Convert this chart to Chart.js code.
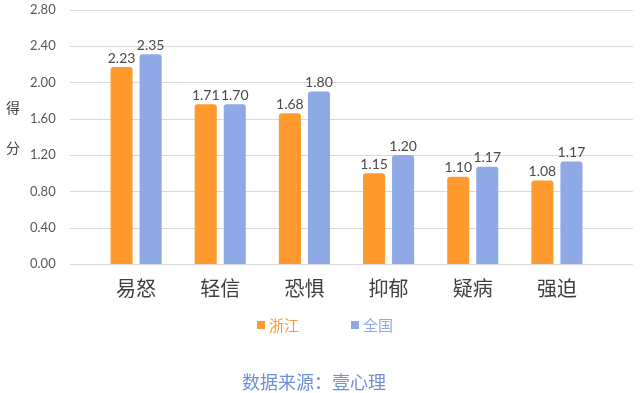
<!DOCTYPE html>
<html><head><meta charset="utf-8">
<script src="https://cdn.jsdelivr.net/npm/chart.js@4/dist/chart.umd.min.js"></script>
<style>html,body{margin:0;padding:0;background:#fff}#wrap{width:640px;height:393px}</style>
</head><body><div id="wrap"><canvas id="c"></canvas></div>
<script>
const categories = ['易怒','轻信','恐惧','抑郁','疑病','强迫'];
const seriesNames = ['浙江','全国'];
// bar heights as drawn in the picture
const zhejiang = [2.17, 1.76, 1.66, 1.00, 0.96, 0.92];
const national = [2.31, 1.76, 1.90, 1.20, 1.07, 1.13];
// value labels as printed in the picture
const zhejiangLabels = ['2.23','1.71','1.68','1.15','1.10','1.08'];
const nationalLabels = ['2.35','1.70','1.80','1.20','1.17','1.17'];
const yTicks = [0,0.4,0.8,1.2,1.6,2.0,2.4,2.8];
const yTitle = ['得','分'];
const sourceText = '数据来源：壹心理';

const ORANGE = '#FF9A2F', BLUE = '#8EA9E6';
const CJK = '"Noto Sans CJK SC", "Noto Sans", sans-serif';
const NUM = 'Lato, "Open Sans", sans-serif';

const decorPlugin = {
  id: 'decor',
  beforeDatasetsDraw(chart) {
    const {ctx} = chart, y = chart.scales.y;
    ctx.save();
    ctx.strokeStyle = '#D9D9D9'; ctx.lineWidth = 1;
    yTicks.forEach(v => {
      const py = Math.round(y.getPixelForValue(v)) + 0.5;
      ctx.beginPath(); ctx.moveTo(70, py); ctx.lineTo(633, py); ctx.stroke();
    });
    ctx.restore();
  },
  afterDraw(chart) {
    const {ctx} = chart;
    ctx.save();
    ctx.fillStyle = '#404040';
    ctx.font = '14px ' + CJK;
    ctx.textAlign = 'center'; ctx.textBaseline = 'middle';
    ctx.fillText(yTitle[0], 13, 108);
    ctx.fillText(yTitle[1], 13, 148);
    // value labels
    ctx.font = '14px ' + NUM;
    ctx.fillStyle = '#4A4A4A';
    ctx.textBaseline = 'bottom';
    const lbls = [zhejiangLabels, nationalLabels];
    chart.data.datasets.forEach((ds, i) => {
      chart.getDatasetMeta(i).data.forEach((bar, j) => {
        ctx.fillText(lbls[i][j], bar.x, bar.y - 2);
      });
    });
    // legend
    ctx.textAlign = 'left'; ctx.textBaseline = 'middle';
    ctx.font = '15px ' + CJK;
    const legendX = [257, 351];
    chart.data.datasets.forEach((ds, i) => {
      ctx.fillStyle = ds.backgroundColor;
      ctx.fillRect(legendX[i], 321, 8, 8);
      ctx.fillText(ds.label, legendX[i] + 12, 325);
    });
    // source
    ctx.textAlign = 'center';
    ctx.font = '18px ' + CJK;
    ctx.fillStyle = '#6F8FD9';
    ctx.fillText(sourceText, 314, 382);
    ctx.restore();
  }
};

new Chart(document.getElementById('c'), {
  type: 'bar',
  data: {
    labels: categories,
    datasets: [
      {label: seriesNames[0], data: zhejiang, backgroundColor: ORANGE, borderRadius: 3, borderSkipped: 'start'},
      {label: seriesNames[1], data: national, backgroundColor: BLUE, borderRadius: 3, borderSkipped: 'start'}
    ]
  },
  options: {
    responsive: true, maintainAspectRatio: false, animation: false,
    layout: {padding: {top: 0, right: 41, left: 30, bottom: 81}},
    datasets: {bar: {categoryPercentage: 0.69, barPercentage: 0.76}},
    scales: {
      x: {
        grid: {display: false, drawTicks: false}, border: {display: false},
        ticks: {font: {size: 20, family: CJK}, color: '#404040', padding: 12, maxRotation: 0, minRotation: 0}
      },
      y: {
        min: 0, max: 2.8,
        afterBuildTicks(s) { s.ticks = yTicks.map(v => ({value: v})); },
        afterFit(s) { s.width = 64; },
        grid: {display: false, drawTicks: false}, border: {display: false},
        ticks: {font: {size: 13, family: NUM}, color: '#595959', padding: 2, crossAlign: 'far',
          callback: v => Number(v).toFixed(2)}
      }
    },
    plugins: {
      legend: {display: false},
      title: {display: false},
      tooltip: {enabled: false}
    }
  },
  plugins: [decorPlugin]
});
</script></body></html>
